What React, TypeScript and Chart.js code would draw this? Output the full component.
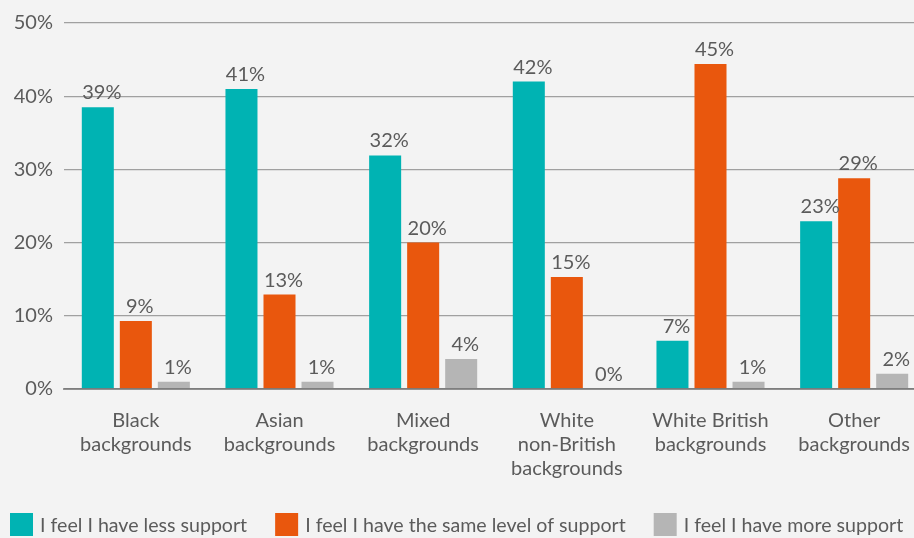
import React, { useEffect, useRef } from "react";
import { Chart, registerables } from "chart.js";

Chart.register(...registerables);

const categories: string[][] = [
  ["Black", "backgrounds"],
  ["Asian", "backgrounds"],
  ["Mixed", "backgrounds"],
  ["White", "non-British", "backgrounds"],
  ["White British", "backgrounds"],
  ["Other", "backgrounds"],
];
const seriesNames = [
  "I feel I have less support",
  "I feel I have the same level of support",
  "I feel I have more support",
];
const lessSupport = [38.5, 41.0, 31.9, 42.0, 6.6, 22.9];
const sameSupport = [9.3, 12.9, 20.0, 15.3, 44.4, 28.8];
const moreSupport = [1.0, 1.0, 4.1, 0, 1.0, 2.1];
const lessLabels = ["39%", "41%", "32%", "42%", "7%", "23%"];
const sameLabels = ["9%", "13%", "20%", "15%", "45%", "29%"];
const moreLabels = ["1%", "1%", "4%", "0%", "1%", "2%"];
const yMin = 0;
const yMax = 50;
const yStep = 10;

const FONT = "Lato, 'Open Sans', sans-serif";
const TEXT = "#5b5b5b";
const BG = "#f3f3f3";
const COLORS = ["#00b3b3", "#e9570d", "#b5b5b5"];
const labelSets = [lessLabels, sameLabels, moreLabels];

const CANVAS_SHIFT = 17;

const valueLabels = {
  id: "valueLabels",
  afterDatasetsDraw(chart: any) {
    const ctx = chart.ctx;
    ctx.save();
    ctx.font = `20px ${FONT}`;
    ctx.fillStyle = TEXT;
    ctx.textAlign = "center";
    ctx.textBaseline = "alphabetic";
    chart.data.datasets.forEach((_ds: any, i: number) => {
      const meta = chart.getDatasetMeta(i);
      const texts = labelSets[i];
      meta.data.forEach((el: any, j: number) => {
        ctx.fillText(texts[j], el.x + 4, el.y - 8);
      });
    });
    ctx.restore();
  },
};

const bottomLegend = {
  id: "bottomLegend",
  afterDraw(chart: any) {
    const ctx = chart.ctx;
    ctx.save();
    ctx.font = `19.6px ${FONT}`;
    ctx.textAlign = "left";
    ctx.textBaseline = "alphabetic";
    const box = 23;
    const boxTop = chart.height - 25;
    let x = CANVAS_SHIFT + 10;
    chart.data.datasets.forEach((ds: any) => {
      ctx.fillStyle = ds.backgroundColor;
      ctx.fillRect(x, boxTop, box, box);
      ctx.fillStyle = TEXT;
      const tx = x + box + 7;
      ctx.fillText(ds.label, tx, boxTop + 19);
      x = tx + ctx.measureText(ds.label).width + 28;
    });
    ctx.restore();
  },
};

export default function App() {
  const ref = useRef<HTMLCanvasElement | null>(null);

  useEffect(() => {
    document.body.style.margin = "0";
    document.body.style.background = BG;
    const canvas = ref.current;
    if (!canvas) return;
    const chart = new Chart(canvas, {
      type: "bar",
      data: {
        labels: categories,
        datasets: [lessSupport, sameSupport, moreSupport].map((d, i) => ({
          label: seriesNames[i],
          data: d,
          backgroundColor: COLORS[i],
          borderWidth: 0,
          categoryPercentage: 0.794,
          barPercentage: 0.842,
        })),
      },
      options: {
        responsive: false,
        animation: false,
        devicePixelRatio: 1,
        layout: { padding: { top: 20, left: 0, right: 0, bottom: 52 } },
        plugins: {
          tooltip: { enabled: false },
          legend: { display: false },
        },
        scales: {
          x: {
            grid: { display: false },
            border: { display: true, color: "rgba(110,110,110,0.7)", width: 2, z: 1 },
            ticks: {
              color: TEXT,
              font: { family: FONT, size: 20 },
              padding: 12,
              maxRotation: 0,
              autoSkip: false,
            },
            afterFit: (s: any) => {
              s.height = 97;
            },
          },
          y: {
            min: yMin,
            max: yMax,
            grid: { color: "#a0a0a0", lineWidth: 1.3, drawTicks: false },
            border: { display: false },
            ticks: {
              stepSize: yStep,
              color: TEXT,
              font: { family: FONT, size: 20 },
              padding: 11,
              callback: (v: any) => `${v}%`,
            },
            afterFit: (s: any) => {
              s.width = 64 + CANVAS_SHIFT;
            },
          },
        },
      },
      plugins: [valueLabels, bottomLegend],
    });
    return () => chart.destroy();
  }, []);

  return (
    <div
      style={{
        position: "fixed",
        left: 0,
        top: 0,
        width: 914,
        height: 538,
        overflow: "hidden",
        background: BG,
      }}
    >
      <div style={{ position: "absolute", left: -CANVAS_SHIFT, top: 0, width: 943, height: 538 }}>
        <canvas ref={ref} width={943} height={538} />
      </div>
    </div>
  );
}
